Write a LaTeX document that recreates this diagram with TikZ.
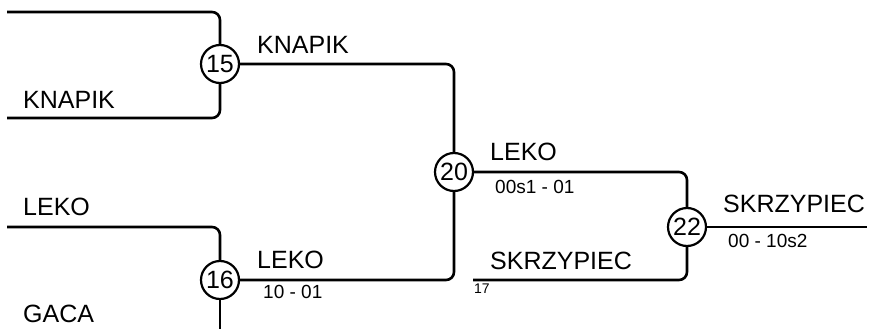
\documentclass[tikz,border=0pt]{standalone}
\usepackage{fontspec}
\setmainfont{Liberation Sans}
\begin{document}
\begin{tikzpicture}[x=1pt,y=-1pt,
  ln/.style={line width=2.6pt, rounded corners=8pt},
  seed/.style={circle, draw, line width=2.2pt, minimum size=38pt, inner sep=0pt, font=\fontsize{25}{30}\selectfont},
  big/.style={anchor=base west, inner sep=0pt, font=\fontsize{25}{30}\selectfont},
  small/.style={anchor=base west, inner sep=0pt, font=\fontsize{19}{22}\selectfont},
  tiny/.style={anchor=base west, inner sep=0pt, font=\fontsize{14}{16}\selectfont}]
\useasboundingbox (0,0) rectangle (875,329);
\node[seed] (c15) at (220,64) {15};
\node[seed] (c16) at (220,280) {16};
\node[seed] (c20) at (454,172) {20};
\node[seed] (c22) at (687,227) {22};
\coordinate (a1) at (7,12);
\coordinate (a2) at (7,118);
\coordinate (a3) at (7,227);
\coordinate (a4) at (220,331);
\coordinate (b1) at (473,280);
\coordinate (out) at (867,227);
\draw[ln] (a1) -| (c15.north);
\draw[ln] (a2) -| (c15.south);
\draw[ln] (a3) -| (c16.north);
\draw[ln] (c16.south) -- (a4);
\draw[ln] (c15.east) -| (c20.north);
\draw[ln] (c16.east) -| (c20.south);
\draw[ln] (c20.east) -| (c22.north);
\draw[ln] (b1) -| (c22.south);
\draw[ln] (c22.east) -- (out);
\node[big] (t1) at (23,108) {KNAPIK};
\node[big] (t2) at (257,54) {KNAPIK};
\node[big] (t3) at (23,215) {LEKO};
\node[big] (t4) at (23,322) {GACA};
\node[big] (t5) at (257,268) {LEKO};
\node[small] (s5) at (263,298) {10 - 01};
\node[big] (t6) at (490,160) {LEKO};
\node[small] (s6) at (495,193) {00s1 - 01};
\node[big] (t7) at (490,269) {SKRZYPIEC};
\node[tiny] (s7) at (474,293) {17};
\node[big] (t8) at (723,212) {SKRZYPIEC};
\node[small] (s8) at (728,247) {00 - 10s2};
\end{tikzpicture}
\end{document}
